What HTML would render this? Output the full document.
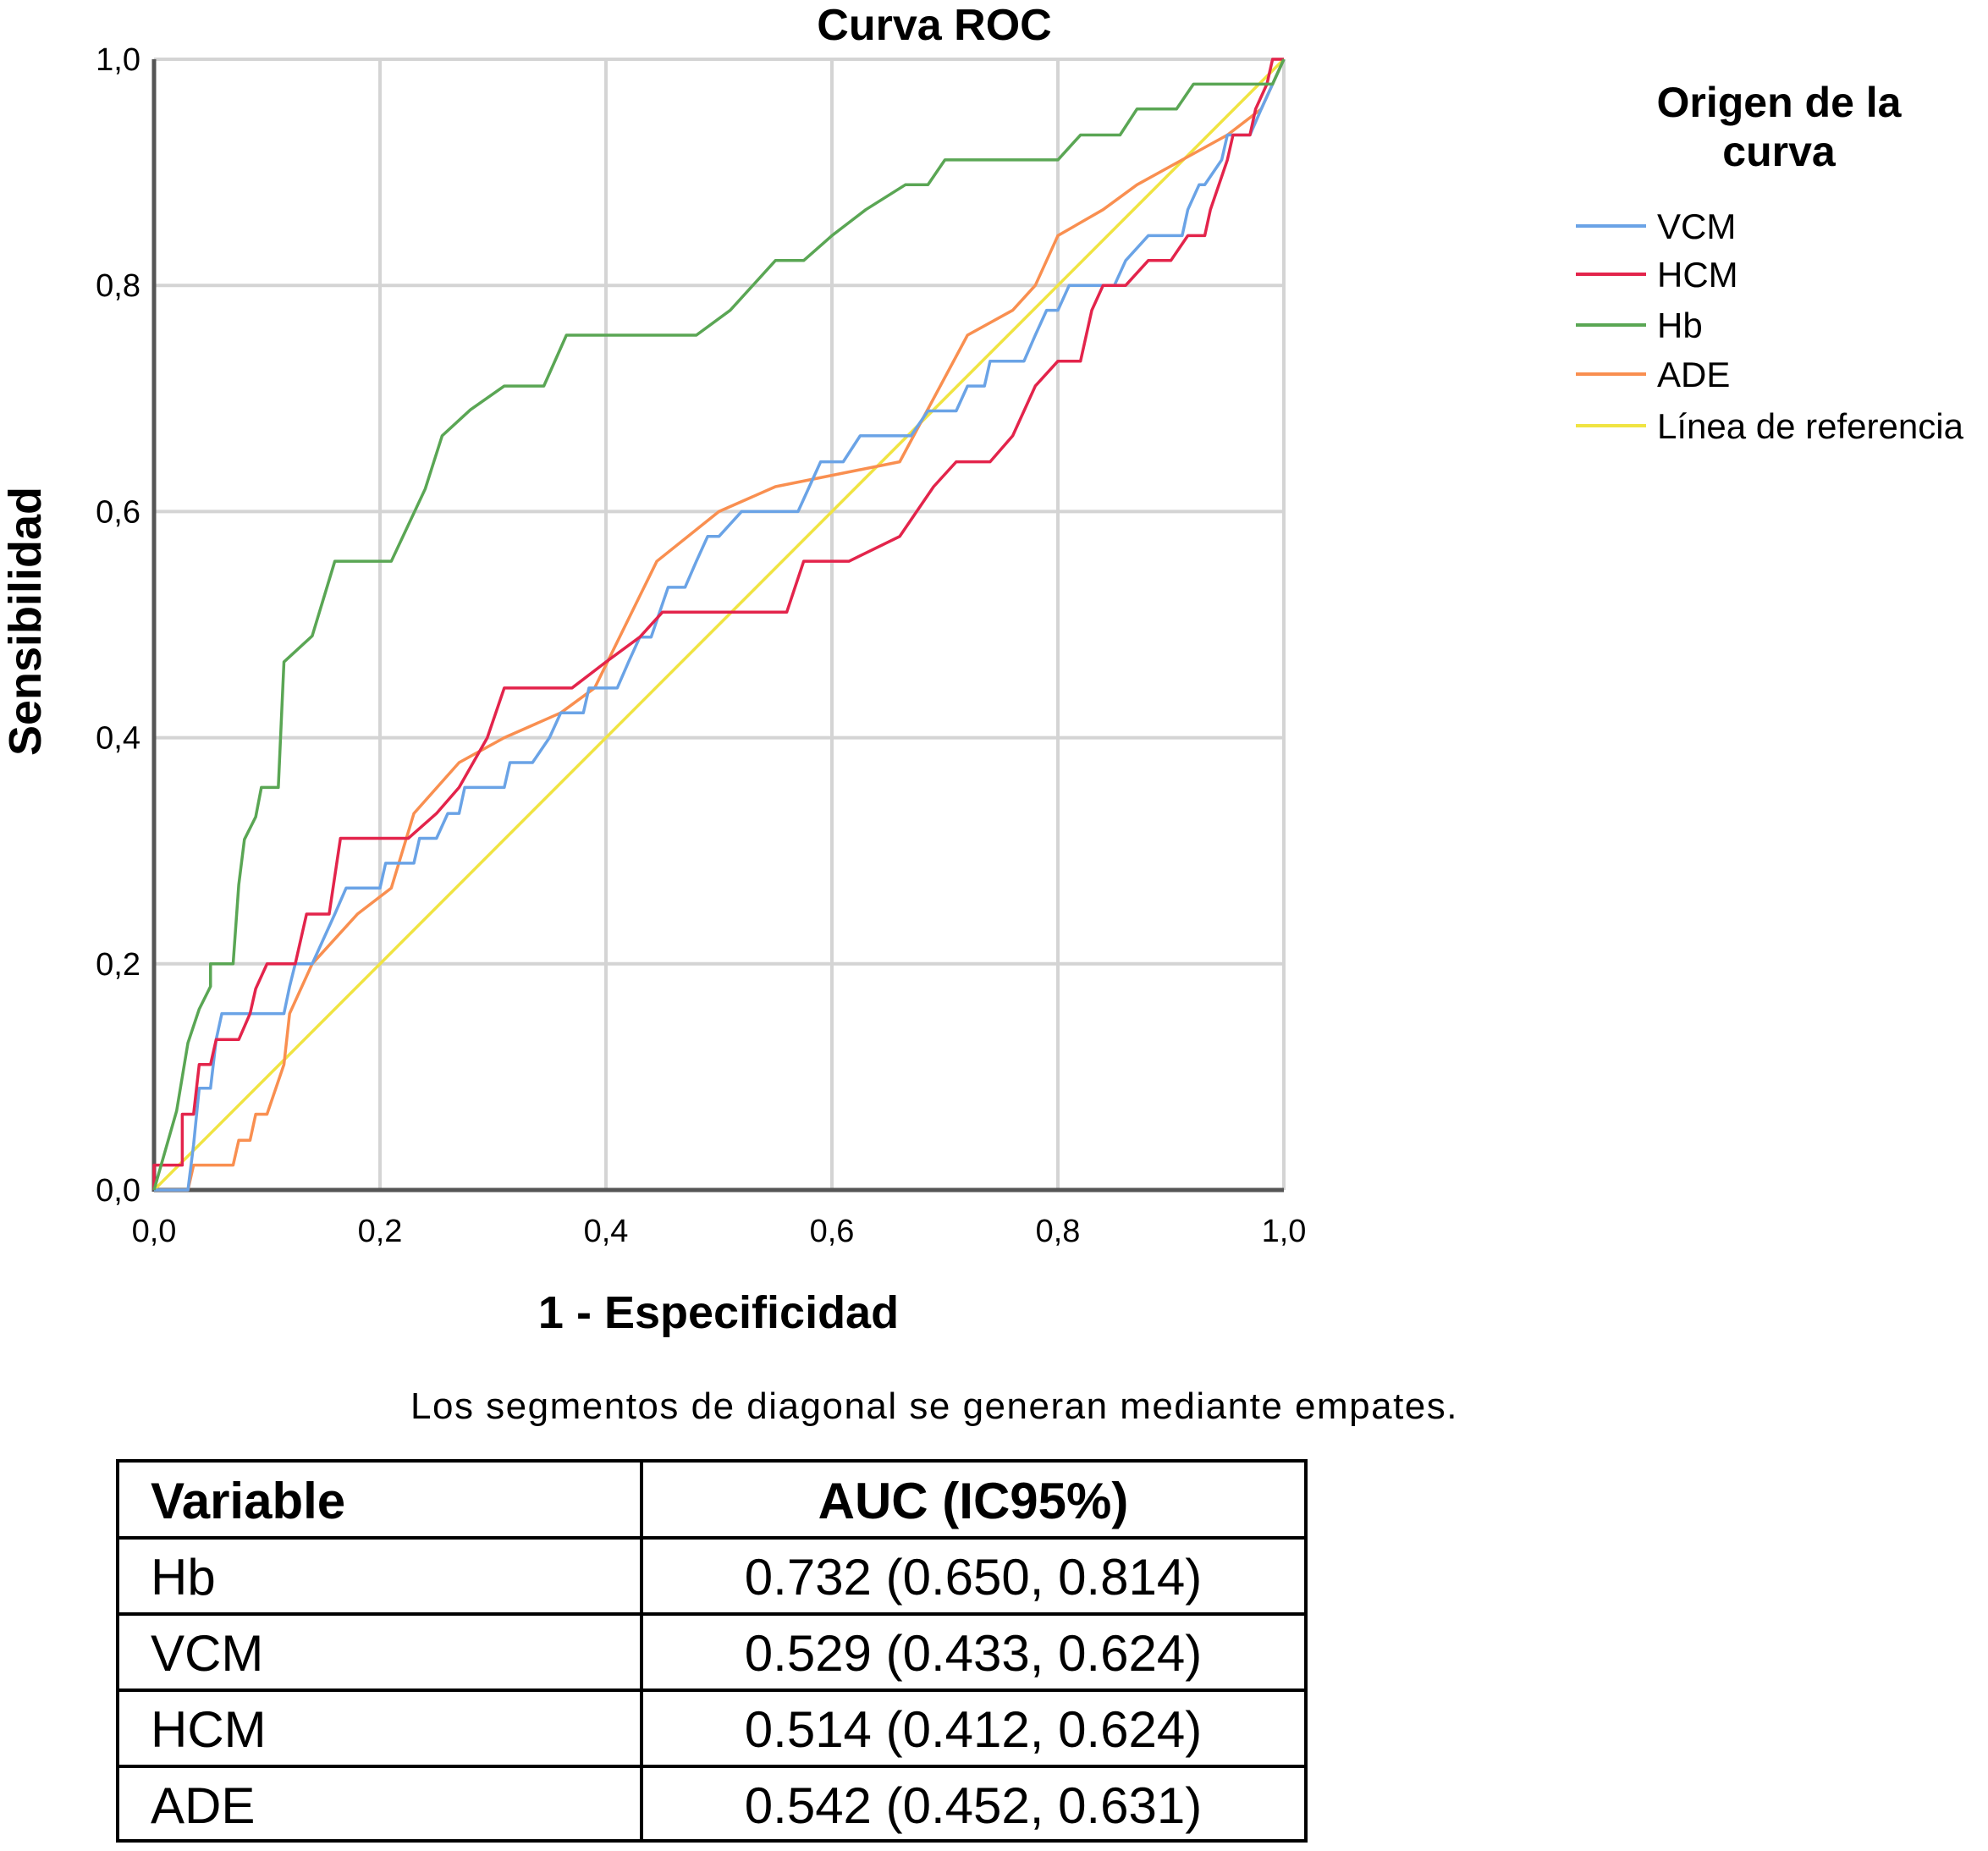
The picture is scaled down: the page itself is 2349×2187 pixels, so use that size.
<!DOCTYPE html>
<html><head><meta charset="utf-8">
<style>
body{margin:0;background:#fff;}
svg{display:block;font-family:"Liberation Sans",sans-serif;}
</style></head>
<body>
<svg id="chart" width="2349" height="2187" viewBox="0 0 2349 2187" xmlns="http://www.w3.org/2000/svg">
<g id="grid"></g>
<g id="axes"></g>
<g id="series"></g>
<text x="1104" y="47" font-size="52" font-weight="bold" text-anchor="middle">Curva ROC</text>
<text x="849" y="1569" font-size="54" font-weight="bold" text-anchor="middle">1 - Especificidad</text>
<text transform="translate(48,734) rotate(-90)" font-size="54" font-weight="bold" text-anchor="middle">Sensibilidad</text>
<text x="1104" y="1676" font-size="44" letter-spacing="1.5" text-anchor="middle">Los segmentos de diagonal se generan mediante empates.</text>
<g>
<text x="2102" y="138" font-size="50" font-weight="bold" text-anchor="middle">Origen de la</text>
<text x="2102" y="196" font-size="50" font-weight="bold" text-anchor="middle">curva</text>
<g id="legend-entries"></g>
</g>
<g font-size="60">
<rect x="139" y="1726" width="1404" height="449" fill="none" stroke="#000" stroke-width="4"/>
<line x1="758" y1="1726" x2="758" y2="2175" stroke="#000" stroke-width="4"/>
<line x1="139" y1="1817" x2="1543" y2="1817" stroke="#000" stroke-width="4"/>
<line x1="139" y1="1907" x2="1543" y2="1907" stroke="#000" stroke-width="4"/>
<line x1="139" y1="1997" x2="1543" y2="1997" stroke="#000" stroke-width="4"/>
<line x1="139" y1="2087" x2="1543" y2="2087" stroke="#000" stroke-width="4"/>
<text x="178" y="1794" font-weight="bold">Variable</text>
<text x="1150" y="1794" font-weight="bold" text-anchor="middle">AUC (IC95%)</text>
<text x="178" y="1884">Hb</text>
<text x="1150" y="1884" text-anchor="middle">0.732 (0.650, 0.814)</text>
<text x="178" y="1974">VCM</text>
<text x="1150" y="1974" text-anchor="middle">0.529 (0.433, 0.624)</text>
<text x="178" y="2064">HCM</text>
<text x="1150" y="2064" text-anchor="middle">0.514 (0.412, 0.624)</text>
<text x="178" y="2154">ADE</text>
<text x="1150" y="2154" text-anchor="middle">0.542 (0.452, 0.631)</text>
</g>
</svg>
<script>
const ticks=[0,0.2,0.4,0.6,0.8,1.0];
const tickLabels=["0,0","0,2","0,4","0,6","0,8","1,0"];
const seriesNames=["VCM","HCM","Hb","ADE","Línea de referencia"];
const hb=[[0,0],[0.02,0.07],[0.03,0.13],[0.04,0.16],[0.05,0.18],[0.05,0.2],[0.07,0.2],[0.075,0.27],[0.08,0.31],[0.09,0.33],[0.095,0.356],[0.11,0.356],[0.115,0.467],[0.14,0.49],[0.16,0.556],[0.21,0.556],[0.24,0.62],[0.255,0.667],[0.28,0.69],[0.31,0.711],[0.345,0.711],[0.365,0.756],[0.48,0.756],[0.51,0.778],[0.55,0.822],[0.575,0.822],[0.6,0.844],[0.63,0.867],[0.665,0.889],[0.685,0.889],[0.7,0.911],[0.8,0.911],[0.82,0.933],[0.855,0.933],[0.87,0.956],[0.905,0.956],[0.92,0.978],[0.99,0.978],[1,1]];
const vcm=[[0,0],[0.03,0],[0.035,0.04],[0.04,0.09],[0.05,0.09],[0.055,0.133],[0.06,0.156],[0.115,0.156],[0.12,0.18],[0.125,0.2],[0.14,0.2],[0.15,0.222],[0.16,0.244],[0.17,0.267],[0.2,0.267],[0.205,0.289],[0.23,0.289],[0.235,0.311],[0.25,0.311],[0.26,0.333],[0.27,0.333],[0.275,0.356],[0.31,0.356],[0.315,0.378],[0.335,0.378],[0.35,0.4],[0.36,0.422],[0.38,0.422],[0.385,0.444],[0.41,0.444],[0.42,0.467],[0.43,0.489],[0.44,0.489],[0.455,0.533],[0.47,0.533],[0.48,0.556],[0.49,0.578],[0.5,0.578],[0.52,0.6],[0.57,0.6],[0.58,0.622],[0.59,0.644],[0.61,0.644],[0.625,0.667],[0.67,0.667],[0.685,0.689],[0.71,0.689],[0.72,0.711],[0.735,0.711],[0.74,0.733],[0.77,0.733],[0.78,0.756],[0.79,0.778],[0.8,0.778],[0.81,0.8],[0.85,0.8],[0.86,0.822],[0.88,0.844],[0.91,0.844],[0.915,0.867],[0.925,0.889],[0.93,0.889],[0.945,0.911],[0.95,0.933],[0.97,0.933],[0.98,0.956],[1,1]];
const hcm=[[0,0],[0,0.022],[0.025,0.022],[0.025,0.067],[0.035,0.067],[0.04,0.111],[0.05,0.111],[0.055,0.133],[0.075,0.133],[0.085,0.156],[0.09,0.178],[0.1,0.2],[0.125,0.2],[0.135,0.244],[0.155,0.244],[0.165,0.311],[0.225,0.311],[0.25,0.333],[0.27,0.356],[0.295,0.4],[0.31,0.444],[0.37,0.444],[0.4,0.467],[0.43,0.489],[0.45,0.511],[0.56,0.511],[0.575,0.556],[0.615,0.556],[0.66,0.578],[0.69,0.622],[0.71,0.644],[0.74,0.644],[0.76,0.667],[0.78,0.711],[0.8,0.733],[0.82,0.733],[0.83,0.778],[0.84,0.8],[0.86,0.8],[0.88,0.822],[0.9,0.822],[0.915,0.844],[0.93,0.844],[0.935,0.867],[0.95,0.911],[0.955,0.933],[0.97,0.933],[0.975,0.956],[0.985,0.978],[0.99,1],[1,1]];
const ade=[[0,0],[0.03,0],[0.035,0.022],[0.07,0.022],[0.075,0.044],[0.085,0.044],[0.09,0.067],[0.1,0.067],[0.115,0.111],[0.12,0.156],[0.14,0.2],[0.18,0.244],[0.21,0.267],[0.23,0.333],[0.27,0.378],[0.31,0.4],[0.36,0.422],[0.39,0.444],[0.445,0.556],[0.5,0.6],[0.55,0.622],[0.66,0.644],[0.72,0.756],[0.76,0.778],[0.78,0.8],[0.8,0.844],[0.84,0.867],[0.87,0.889],[0.91,0.911],[0.95,0.933],[0.98,0.956],[1,1]];
const reference=[[0,0],[1,1]];

const NS="http://www.w3.org/2000/svg";
const X0=182,X1=1517,Y0=1406,Y1=70;
const sx=v=>X0+v*(X1-X0), sy=v=>Y0-v*(Y0-Y1);
function mk(tag,attrs,parent){const e=document.createElementNS(NS,tag);for(const k in attrs)e.setAttribute(k,attrs[k]);parent.appendChild(e);return e;}
const grid=document.getElementById('grid'),axes=document.getElementById('axes'),ser=document.getElementById('series');
ticks.forEach((t,i)=>{
  if(t>0){
    const gv=mk('line',{x1:sx(t),x2:sx(t),y1:Y1,y2:Y0,stroke:'#d4d4d4','stroke-width':4},grid);
    
    
    const gh=mk('line',{x1:X0,x2:X1,y1:sy(t),y2:sy(t),stroke:'#d4d4d4','stroke-width':4},grid);
    
    
  }
  const xl=mk('text',{x:sx(t),y:Y0+61,'font-size':38,'text-anchor':'middle'},axes);
  xl.textContent=tickLabels[i];
  
  
  const yl=mk('text',{x:X0-16,y:sy(t)+13,'font-size':38,'text-anchor':'end'},axes);
  yl.textContent=tickLabels[i];
  
  
});
const ya=mk('line',{x1:X0,x2:X0,y1:Y1,y2:Y0+2,stroke:'#555','stroke-width':5},axes);


const xa=mk('line',{x1:X0,x2:X1,y1:Y0,y2:Y0,stroke:'#555','stroke-width':5},axes);


const all=[[reference,'#f0e442','reference-line'],[ade,'#f98f50','ade-curve'],[vcm,'#6aa3e6','vcm-curve'],[hcm,'#e3244b','hcm-curve'],[hb,'#5aa654','hb-curve']];
all.forEach(([d,c,n])=>{
  const p=mk('polyline',{points:d.map(q=>sx(q[0])+','+sy(q[1])).join(' '),fill:'none',stroke:c,'stroke-width':3.5,'stroke-linejoin':'round'},ser);
  
  
});
const lc=['#6aa3e6','#e3244b','#5aa654','#f98f50','#f0e442'];
const le=document.getElementById('legend-entries');
const ly=[267,324,384,442,503];
seriesNames.forEach((s,i)=>{
  const l=mk('line',{x1:1862,x2:1945,y1:ly[i],y2:ly[i],stroke:lc[i],'stroke-width':4},le);
  
  
  const t=mk('text',{x:1958,y:ly[i]+15,'font-size':42},le);
  t.textContent=s;
  
  
});
</script>
</body></html>
